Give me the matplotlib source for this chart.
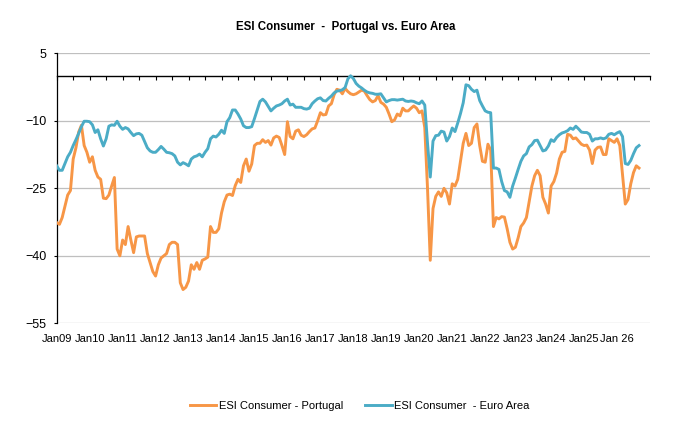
import numpy as np
import matplotlib
matplotlib.use("Agg")
import matplotlib.pyplot as plt
from matplotlib.ticker import MultipleLocator

plt.rcParams["font.family"] = ["Liberation Sans", "DejaVu Sans"]

ORANGE = "#F79646"
AQUA = "#4BACC6"
GRID = "#BFBFBF"

# monthly readings, Jan 2009 onwards
portugal = [
    -32.6, -33.0, -31.5, -29.0, -26.5, -25.5, -18.5, -16.0, -12.5, -11.0, -15.5, -17.0,
    -19.2, -18.0, -21.0, -22.5, -23.0, -27.2, -27.3, -26.5, -24.5, -22.6, -38.5, -40.0,
    -36.5, -37.5, -33.5, -36.5, -39.3, -35.8, -35.6, -35.6, -35.6, -39.5, -41.5, -43.5,
    -44.5, -42.0, -40.5, -40.0, -39.5, -37.5, -37.0, -37.0, -37.5, -46.0, -47.5, -47.0,
    -45.6, -42.0, -43.0, -41.5, -43.0, -41.0, -40.7, -40.3, -33.5, -34.8, -34.8, -34.0,
    -30.5, -28.0, -26.5, -26.3, -26.6, -24.4, -23.0, -23.7, -20.0, -18.5, -21.2, -19.6,
    -15.5, -15.0, -15.0, -14.2, -14.8, -14.4, -15.4, -13.8, -13.4, -13.7, -15.5, -17.5,
    -10.2, -13.5, -14.0, -12.3, -12.0, -13.2, -13.5, -13.1, -12.4, -11.8, -11.6, -10.0,
    -8.2, -8.7, -8.6, -6.7, -6.2, -4.2, -3.0, -3.2, -4.0, -2.8, -3.5, -4.0,
    -4.2, -4.0, -3.6, -3.2, -3.4, -4.4, -5.3, -5.8, -5.5, -4.4, -5.9, -6.3,
    -7.0, -8.5, -10.2, -9.8, -8.5, -8.9, -7.2, -7.8, -7.8, -7.2, -6.7, -7.2,
    -8.2, -7.8, -11.5, -25.0, -41.0, -29.5, -26.8, -25.8, -26.8, -25.0, -26.0, -28.5,
    -24.0, -24.5, -23.0, -19.0, -15.0, -12.8, -15.5, -15.0, -11.5, -10.7, -15.5, -19.0,
    -19.2, -15.2, -16.5, -33.5, -31.5, -31.8, -31.3, -31.4, -34.0, -37.0, -38.5, -38.1,
    -36.0, -33.5, -32.7, -31.5, -28.0, -24.5, -22.2, -21.0, -22.2, -27.0, -28.5, -30.5,
    -24.5, -23.5, -21.6, -18.5, -17.0, -16.8, -13.0, -13.2, -14.0, -13.8, -14.5, -15.2,
    -15.5, -15.4, -16.5, -19.5, -16.5, -15.9, -15.8, -17.5, -17.5, -14.0, -14.4, -14.8,
    -14.0, -15.5, -22.0, -28.5, -27.5, -24.0, -21.5, -20.0, -20.5,
]
euro_area = [
    -20.0, -21.0, -21.0, -19.5, -18.0, -17.0, -15.5, -14.2, -12.8, -11.3, -10.1, -10.1,
    -10.2, -10.9, -12.6, -12.0, -14.0, -15.6, -14.0, -11.2, -10.9, -11.0, -10.1, -11.2,
    -11.9, -11.5, -11.8, -12.6, -13.3, -12.9, -12.8, -13.2, -14.6, -16.0, -16.7, -17.0,
    -17.0, -16.4, -15.7, -16.3, -17.0, -17.1, -17.3, -17.8, -19.2, -19.8, -19.3, -19.6,
    -20.0, -18.5, -18.0, -17.8, -17.4, -18.0, -17.0, -16.2, -14.0, -13.4, -13.6, -13.0,
    -12.1, -12.8, -10.2, -9.3, -7.6, -7.6, -8.5, -9.6, -11.1, -11.5, -11.5, -11.3,
    -9.5, -7.6, -5.7, -5.2, -5.8, -6.8, -7.8, -7.2, -6.7, -6.5, -6.2, -5.6,
    -5.2, -6.5, -6.3, -7.0, -7.0, -7.0, -7.3, -7.4, -7.2, -6.2, -5.6, -5.1,
    -4.9, -5.5, -5.6, -5.0, -4.5, -3.8, -3.4, -3.3, -3.1, -2.6, -0.7, 0.0,
    -0.6, -1.7, -2.3, -2.7, -3.2, -3.6, -3.8, -3.9, -4.1, -4.1, -4.0, -4.9,
    -5.8, -5.5, -5.3, -5.3, -5.4, -5.3, -5.2, -5.6, -5.7, -5.6, -5.7, -6.0,
    -6.2, -5.6, -6.5, -15.0, -22.5, -14.5, -13.3, -13.2, -12.3, -12.5, -14.5, -13.5,
    -11.6, -12.4, -10.5, -8.4, -6.0, -2.0, -2.2, -3.0, -3.5, -3.2, -5.5, -6.7,
    -7.8, -8.1, -8.2, -20.5, -20.5, -20.8, -23.5, -25.5, -25.8, -27.0, -24.5, -22.7,
    -20.8, -19.0, -17.8, -17.3, -15.8, -15.3, -14.4, -14.3, -15.5, -16.7, -16.5, -15.6,
    -14.2, -14.6, -13.7, -13.1, -12.7, -12.5, -12.2, -11.6, -11.9, -11.2, -11.8, -12.5,
    -12.6, -12.6, -13.0, -14.5, -14.0, -14.0, -13.8, -14.0, -13.8, -13.0, -12.8, -13.1,
    -12.7, -12.4, -13.5, -19.5, -19.7, -18.8, -17.3, -16.0, -15.5,
]
year_labels = ["Jan09", "Jan10", "Jan11", "Jan12", "Jan13", "Jan14", "Jan15", "Jan16",
               "Jan17", "Jan18", "Jan19", "Jan20", "Jan21", "Jan22", "Jan23", "Jan24",
               "Jan25", "Jan 26"]
y_ticks = [5, -10, -25, -40, -55]

months = np.arange(len(portugal))

fig = plt.figure(figsize=(6.8, 4.41), dpi=100)
ax = fig.add_axes([56.7 / 680, 1 - 323.3 / 441, (650 - 56.7) / 680, (323.3 - 53.3) / 441])

ax.plot(months, portugal, color=ORANGE, lw=2.1, label="ESI Consumer - Portugal", zorder=3)
ax.plot(months, euro_area, color=AQUA, lw=2.1, label="ESI Consumer  - Euro Area", zorder=4)

ax.set_xlim(0, 216)
ax.set_ylim(-55, 5)
ax.set_yticks(y_ticks)
ax.yaxis.grid(True, color=GRID, lw=0.9)
ax.set_axisbelow(True)
ax.tick_params(axis="y", direction="out", length=2.5, width=0.8, pad=5, labelsize=9)

for s in ["top", "right"]:
    ax.spines[s].set_visible(False)
ax.spines["left"].set_linewidth(0.9)
ax.spines["bottom"].set_position(("data", 0))
ax.spines["bottom"].set_linewidth(1.0)
ax.spines["bottom"].set_zorder(2)
ax.xaxis.set_major_locator(MultipleLocator(6))
ax.tick_params(axis="x", direction="out", length=3, width=0.8, labelbottom=False)

sec = ax.secondary_xaxis("bottom")
sec.set_xticks(np.arange(len(year_labels)) * 12)
sec.set_xticklabels(year_labels)
sec.tick_params(length=0, pad=8, labelsize=8)
sec.spines["bottom"].set_visible(False)

fig.text(346 / 680, 1 - 26.7 / 441, "ESI Consumer  -  Portugal vs. Euro Area",
         ha="center", va="center", fontsize=8.3, fontweight="bold")

fig.legend(loc="center", bbox_to_anchor=(359.5 / 680, 1 - 405.7 / 441), ncol=2, frameon=False,
           fontsize=8, handlelength=2.4, handletextpad=0.2, columnspacing=2.0)

fig.savefig("out.png", dpi=100)
